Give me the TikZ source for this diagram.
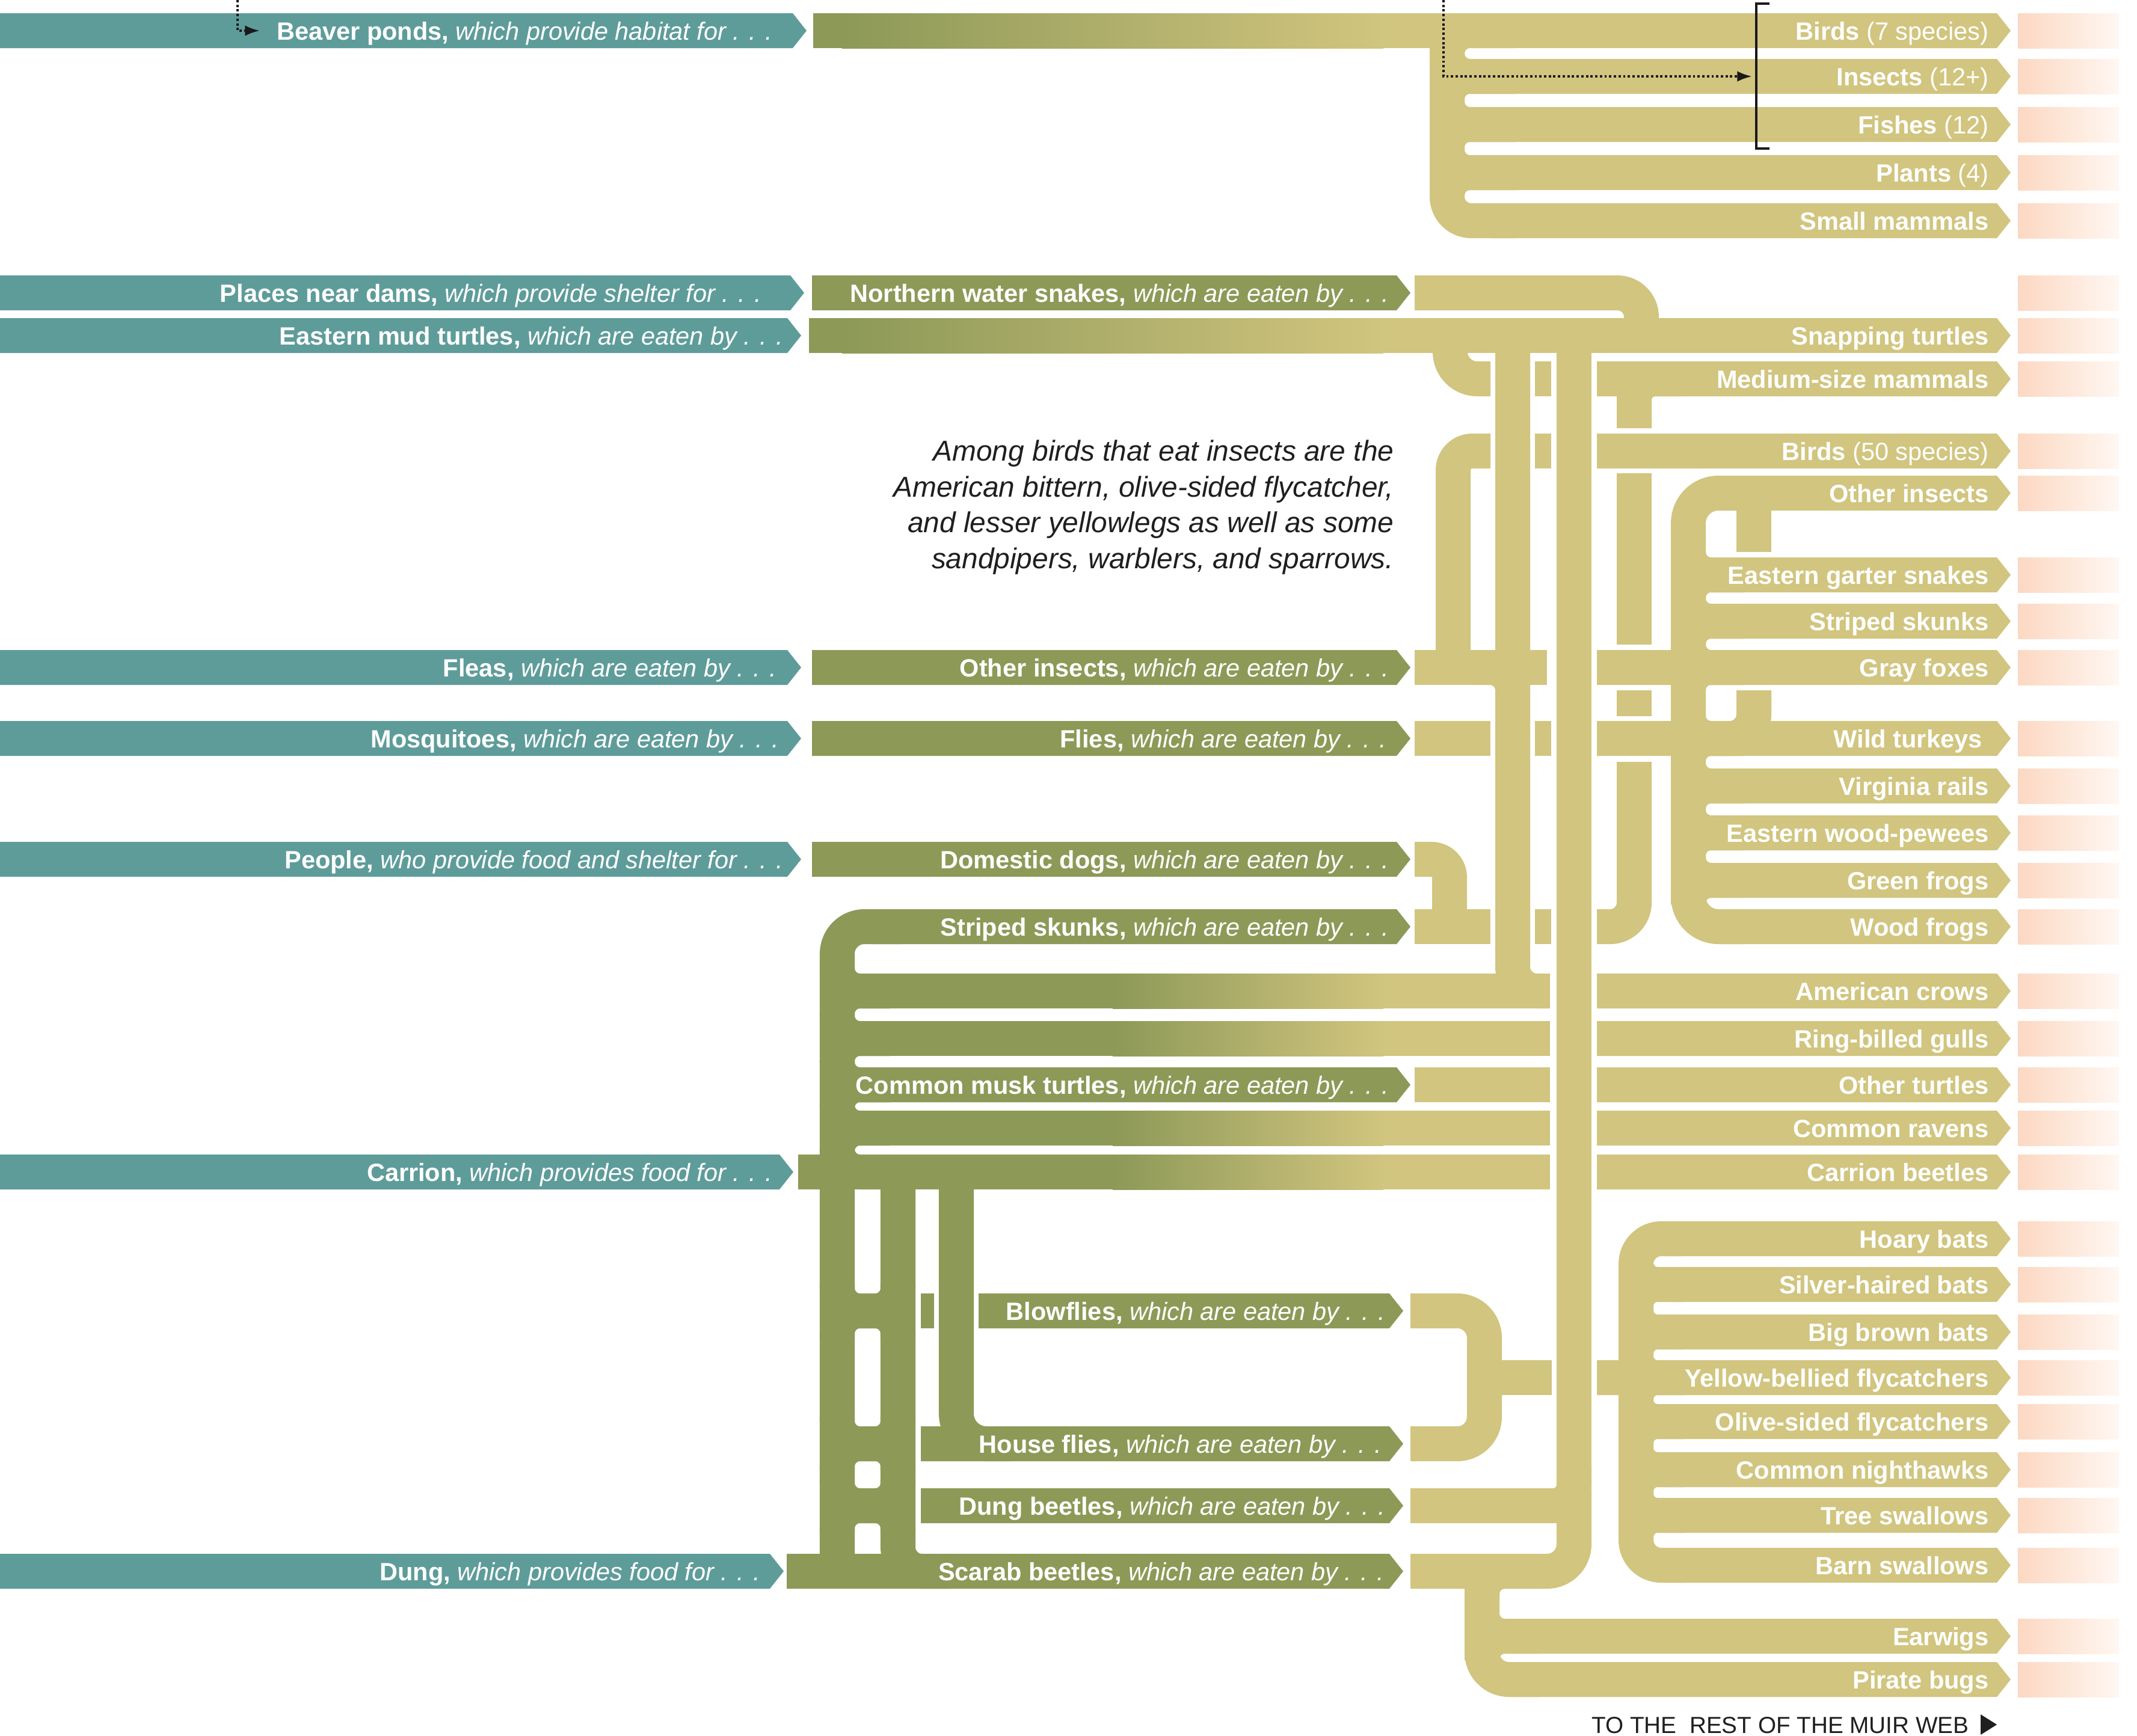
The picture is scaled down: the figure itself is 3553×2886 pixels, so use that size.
\documentclass[tikz,border=0pt]{standalone}
\usepackage{fontspec}
\setmainfont{Liberation Sans}
\usetikzlibrary{arrows.meta}
\definecolor{tealc}{HTML}{5E9C9A}
\definecolor{olivec}{HTML}{8D9957}
\definecolor{tanc}{HTML}{D1C57F}
\definecolor{peachA}{HTML}{FCD8C2}
\definecolor{peachB}{HTML}{FFF7F2}
\newcommand{\lf}{\fontsize{11.8}{14}\selectfont}
\newcommand{\arrbar}[4]{\fill[#1] (#2,#4-29) -- (#3-23,#4-29) -- (#3,#4) -- (#3-23,#4+29) -- (#2,#4+29) -- cycle;}
\newcommand{\flatbar}[4]{\fill[#1] (#2,#4-29) rectangle (#3,#4+29);}
\newcommand{\gradbar}[5]{\fill[olivec] (#1,#5-29) rectangle (#2+2,#5+29);\shade[left color=olivec,right color=tanc] (#2,#5-29) rectangle (#3,#5+29);\fill[tanc] (#3-2,#5-29) rectangle (#4,#5+29);}
\newcommand{\peachbox}[1]{\shade[left color=peachA,right color=peachB] (3355,#1-29) rectangle (3523,#1+29);}
\newcommand{\filr}[4]{\draw[pipe,#1,rounded corners=0.38cm] (#2,#3-40) -- (#2,#3) -- (#4,#3);\draw[pipe,#1,rounded corners=0.38cm] (#2,#3+40) -- (#2,#3) -- (#4,#3);}
\begin{document}
\begin{tikzpicture}[x=0.01cm,y=-0.01cm,
  pipe/.style={line width=0.58cm},
  rl/.style={anchor=base east,text=white,inner sep=0pt,font=\lf\bfseries},
  ll/.style={anchor=base east,text=white,inner sep=0pt,font=\lf},
  dotline/.style={line width=1.1pt,dash pattern=on 1.1pt off 1.1pt,draw=black!90}]
\useasboundingbox (0,0) rectangle (3553,2886);
\fill[white] (0,0) rectangle (3553,2886);

% peach boxes
\foreach \y in {51,127,207,287,367,487,558,630,750,820,956,1033,1110,1228,1307,1385,1464,1541,1648,1727,1804,1876,1949,2060,2136,2215,2291,2364,2444,2520,2603,2721,2793} {\peachbox{\y}}

% teal source bars
\arrbar{tealc}{0}{1341}{51}
\arrbar{tealc}{0}{1337}{487}
\arrbar{tealc}{0}{1332}{558}
\arrbar{tealc}{0}{1332}{1110}
\arrbar{tealc}{0}{1332}{1228}
\arrbar{tealc}{0}{1332}{1429}
\arrbar{tealc}{0}{1319}{1949}
\arrbar{tealc}{0}{1303}{2613}

% ---------- top group (beaver ponds)
\gradbar{1352}{1400}{2300}{3300}{51}
\arrbar{tanc}{3200}{3343}{51}
\draw[pipe,tanc,rounded corners=0.4cm] (2406,60) -- (2406,367) -- (2520,367);
\draw[pipe,tanc,rounded corners=0.38cm] (2520,51) -- (2406,51) -- (2406,95);
\foreach \y in {127,207,287} {\filr{tanc}{2406}{\y}{2520}}
\foreach \y in {127,207,287} {\arrbar{tanc}{2430}{3343}{\y}}
\arrbar{tanc}{2480}{3343}{367}

% ---------- snakes / mud turtles
\arrbar{olivec}{1350}{2345}{487}
\draw[pipe,tanc,rounded corners=0.4cm] (2352,487) -- (2729,487) -- (2729,570);
\gradbar{1345}{1400}{2300}{3300}{558}
\arrbar{tanc}{3200}{3343}{558}

% verticals V1, V2
\draw[pipe,tanc,rounded corners=0.4cm] (2515,580) -- (2515,1648) -- (2577,1648);
\draw[pipe,tanc] (2617,580) -- (2617,2500);

% medium-size mammals row
\draw[pipe,tanc,rounded corners=0.45cm] (2411,570) -- (2411,630) -- (2478,630);
\flatbar{tanc}{2552}{2579}{630}
\arrbar{tanc}{2655}{3343}{630}
\draw[pipe,tanc,rounded corners=0.35cm] (2800,630) -- (2717,630) -- (2717,712);

% birds (50 species) row
\draw[pipe,tanc,rounded corners=0.32cm] (2416,1110) -- (2416,750) -- (2478,750);
\flatbar{tanc}{2552}{2579}{750}
\arrbar{tanc}{2655}{3343}{750}

% V3
\draw[pipe,tanc] (2717,787) -- (2717,1072);
\draw[pipe,tanc] (2717,1148) -- (2717,1191);
\draw[pipe,tanc,rounded corners=0.4cm] (2717,1267) -- (2717,1541) -- (2655,1541);

% V4 loop (other insects ... wood frogs)
\draw[pipe,tanc,rounded corners=0.5cm] (2900,820) -- (2807,820) -- (2807,1541) -- (2900,1541);
\foreach \y in {956,1033,1110,1228,1307,1385,1464} {\filr{tanc}{2807}{\y}{2900}}
\draw[pipe,tanc] (2916,820) -- (2916,918);
\draw[pipe,tanc,rounded corners=0.4cm] (2916,1148) -- (2916,1228) -- (2850,1228);
\arrbar{tanc}{2860}{3343}{820}
\arrbar{tanc}{2860}{3343}{1541}
\foreach \y in {956,1033,1307,1385,1464} {\arrbar{tanc}{2840}{3343}{\y}}
\arrbar{tanc}{2655}{3343}{1110}
\arrbar{tanc}{2655}{3343}{1228}

% other insects / flies / dogs rows (left tan parts)
\arrbar{olivec}{1350}{2345}{1110}
\flatbar{tanc}{2352}{2572}{1110}
\draw[pipe,tanc,rounded corners=0.38cm] (2450,1110) -- (2515,1110) -- (2515,1150);
\arrbar{olivec}{1350}{2345}{1228}
\flatbar{tanc}{2352}{2478}{1228}
\flatbar{tanc}{2552}{2579}{1228}
\arrbar{olivec}{1350}{2345}{1429}
\draw[pipe,tanc,rounded corners=0.3cm] (2352,1429) -- (2410,1429) -- (2410,1545);

% striped skunks (olive trunk T0)
\draw[pipe,olivec,rounded corners=0.45cm] (1500,1541) -- (1392,1541) -- (1392,2613);
\arrbar{olivec}{1450}{2345}{1541}
\flatbar{tanc}{2352}{2478}{1541}
\flatbar{tanc}{2552}{2579}{1541}

% gradient rows from T0
\foreach \y in {1648,1727,1804,1876} {\filr{olivec}{1392}{\y}{1480}}
\draw[pipe,olivec,rounded corners=0.38cm] (1392,1909) -- (1392,1949) -- (1480,1949);
\gradbar{1392}{1850}{2300}{2577}{1648}
\gradbar{1392}{1850}{2300}{2577}{1727}
\arrbar{olivec}{1392}{2345}{1804}
\flatbar{tanc}{2352}{2577}{1804}
\gradbar{1392}{1850}{2300}{2577}{1876}
\gradbar{1327}{1850}{2300}{2577}{1949}
\foreach \y in {1648,1727,1804,1876,1949} {\arrbar{tanc}{2655}{3343}{\y}}

% lower olive section
\draw[pipe,olivec,rounded corners=0.4cm] (1493,1970) -- (1493,2613) -- (1580,2613);
\draw[pipe,olivec,rounded corners=0.5cm] (1590,1970) -- (1590,2401) -- (1680,2401);
\foreach \y in {2180,2401,2504} {
  \draw[pipe,olivec,rounded corners=0.38cm] (1392,\y-45) -- (1392,\y) -- (1493,\y) -- (1493,\y-45);
  \draw[pipe,olivec,rounded corners=0.38cm] (1392,\y+45) -- (1392,\y) -- (1493,\y) -- (1493,\y+45);}
\flatbar{olivec}{1531}{1553}{2180}
\arrbar{olivec}{1627}{2333}{2180}
\arrbar{olivec}{1531}{2333}{2401}
\arrbar{olivec}{1531}{2333}{2504}
\arrbar{olivec}{1308}{2333}{2613}

% D (blowflies / house flies)
\draw[pipe,tanc,rounded corners=0.45cm] (2345,2180) -- (2468,2180) -- (2468,2401) -- (2345,2401);
\flatbar{tanc}{2468}{2580}{2291}
% dung & scarab into V2
\draw[pipe,tanc,rounded corners=0.35cm] (2345,2504) -- (2617,2504) -- (2617,2440);
\draw[pipe,tanc,rounded corners=0.45cm] (2345,2613) -- (2617,2613) -- (2617,2480);
% earwigs / pirate bugs
\draw[pipe,tanc,rounded corners=0.45cm] (2464,2600) -- (2464,2793) -- (2560,2793);
\draw[pipe,tanc,rounded corners=0.38cm] (2560,2613) -- (2464,2613) -- (2464,2660);
\filr{tanc}{2464}{2721}{2560}
\arrbar{tanc}{2515}{3343}{2721}
\arrbar{tanc}{2515}{3343}{2793}

% bats bracket V6
\draw[pipe,tanc,rounded corners=0.42cm] (2800,2060) -- (2720,2060) -- (2720,2603) -- (2800,2603);
\foreach \y in {2136,2215,2291,2364,2444,2520} {\draw[pipe,tanc,rounded corners=0.36cm] (2720,\y-37) -- (2720,\y) -- (2800,\y);\draw[pipe,tanc,rounded corners=0.36cm] (2720,\y+37) -- (2720,\y) -- (2800,\y);}
\arrbar{tanc}{2655}{3343}{2291}
\foreach \y in {2060,2136,2215,2364,2444,2520,2603} {\arrbar{tanc}{2770}{3343}{\y}}

% ---------- left labels (teal)
\node[ll] (tBeaver) at (1285,66) {\textbf{Beaver ponds,} \textit{which provide habitat for . . .}};
\node[ll] (tPlaces) at (1267,502) {\textbf{Places near dams,} \textit{which provide shelter for . . .}};
\node[ll] (tMud) at (1303,573) {\textbf{Eastern mud turtles,} \textit{which are eaten by . . .}};
\node[ll] (tFleas) at (1292,1125) {\textbf{Fleas,} \textit{which are eaten by . . .}};
\node[ll] (tMosq) at (1296,1243) {\textbf{Mosquitoes,} \textit{which are eaten by . . .}};
\node[ll] (tPeople) at (1303,1444) {\textbf{People,} \textit{who provide food and shelter for . . .}};
\node[ll] (tCarrion) at (1285,1964) {\textbf{Carrion,} \textit{which provides food for . . .}};
\node[ll] (tDung) at (1265,2628) {\textbf{Dung,} \textit{which provides food for . . .}};

% ---------- middle labels (olive)
\node[ll] (oSnakes) at (2310,502) {\textbf{Northern water snakes,} \textit{which are eaten by . . .}};
\node[ll] (oInsects) at (2310,1125) {\textbf{Other insects,} \textit{which are eaten by . . .}};
\node[ll] (oFlies) at (2306,1243) {\textbf{Flies,} \textit{which are eaten by . . .}};
\node[ll] (oDogs) at (2310,1444) {\textbf{Domestic dogs,} \textit{which are eaten by . . .}};
\node[ll] (oSkunks) at (2310,1556) {\textbf{Striped skunks,} \textit{which are eaten by . . .}};
\node[ll] (oMusk) at (2310,1819) {\textbf{Common musk turtles,} \textit{which are eaten by . . .}};
\node[ll] (oBlow) at (2304,2195) {\textbf{Blowflies,} \textit{which are eaten by . . .}};
\node[ll] (oHouse) at (2298,2416) {\textbf{House flies,} \textit{which are eaten by . . .}};
\node[ll] (oDungB) at (2304,2519) {\textbf{Dung beetles,} \textit{which are eaten by . . .}};
\node[ll] (oScarab) at (2302,2628) {\textbf{Scarab beetles,} \textit{which are eaten by . . .}};

% ---------- right labels
\node[rl] (rBirdsA) at (3307,66) {Birds \mdseries(7 species)};
\node[rl] (rInsects) at (3307,142) {Insects \mdseries(12+)};
\node[rl] (rFishes) at (3307,222) {Fishes \mdseries(12)};
\node[rl] (rPlants) at (3307,302) {Plants \mdseries(4)};
\node[rl] (rSmall) at (3307,382) {Small mammals};
\node[rl] (rSnap) at (3307,573) {Snapping turtles};
\node[rl] (rMed) at (3307,645) {Medium-size mammals};
\node[rl] (rBirdsB) at (3307,765) {Birds \mdseries(50 species)};
\node[rl] (rOthIns) at (3307,835) {Other insects};
\node[rl] (rGarter) at (3307,971) {Eastern garter snakes};
\node[rl] (rSkunk) at (3307,1048) {Striped skunks};
\node[rl] (rFox) at (3307,1125) {Gray foxes};
\node[rl] (rTurkey) at (3296,1243) {Wild turkeys};
\node[rl] (rRail) at (3307,1322) {Virginia rails};
\node[rl] (rPewee) at (3307,1400) {Eastern wood-pewees};
\node[rl] (rGreen) at (3307,1479) {Green frogs};
\node[rl] (rWood) at (3307,1556) {Wood frogs};
\node[rl] (rCrow) at (3307,1663) {American crows};
\node[rl] (rGull) at (3307,1742) {Ring-billed gulls};
\node[rl] (rOthTur) at (3307,1819) {Other turtles};
\node[rl] (rRaven) at (3307,1891) {Common ravens};
\node[rl] (rCarB) at (3307,1964) {Carrion beetles};
\node[rl] (rHoary) at (3307,2075) {Hoary bats};
\node[rl] (rSilver) at (3307,2151) {Silver-haired bats};
\node[rl] (rBigB) at (3307,2230) {Big brown bats};
\node[rl] (rYellow) at (3307,2306) {Yellow-bellied flycatchers};
\node[rl] (rOlive) at (3307,2379) {Olive-sided flycatchers};
\node[rl] (rNight) at (3307,2459) {Common nighthawks};
\node[rl] (rTree) at (3307,2535) {Tree swallows};
\node[rl] (rBarn) at (3307,2618) {Barn swallows};
\node[rl] (rEar) at (3307,2736) {Earwigs};
\node[rl] (rPirate) at (3307,2808) {Pirate bugs};

% note
\node[anchor=north east,align=right,inner sep=0pt,text=black!88,font=\fontsize{13.6}{17}\selectfont\itshape] (note) at (2318,731)
 {Among birds that eat insects are the\\American bittern, olive-sided flycatcher,\\and lesser yellowlegs as well as some\\sandpipers, warblers, and sparrows.};

% footer
\node[anchor=base east,inner sep=0pt,text=black!88,font=\fontsize{11}{13}\selectfont] (footer) at (3274,2882) {TO THE\ \ REST OF THE MUIR WEB};
\coordinate (triA) at (3293,2851);
\fill[black!88] (triA) -- ++(27,17) -- ++(-27,17) -- cycle;

% dotted pointers and bracket
\coordinate (dA) at (395,0);
\coordinate (dAend) at (432,51);
\draw[dotline,-{Latex[length=7pt,width=5pt]}] (dA) |- (dAend);
\coordinate (dB) at (2400,0);
\coordinate (dBend) at (2913,127);
\draw[dotline,-{Latex[length=7pt,width=5pt]}] (dB) |- (dBend);
\coordinate (brT) at (2942,6);
\coordinate (brB) at (2942,247);
\draw[line width=1.2pt,black!90] (brT) -- ++(-22,0) |- (brB);
\end{tikzpicture}
\end{document}
